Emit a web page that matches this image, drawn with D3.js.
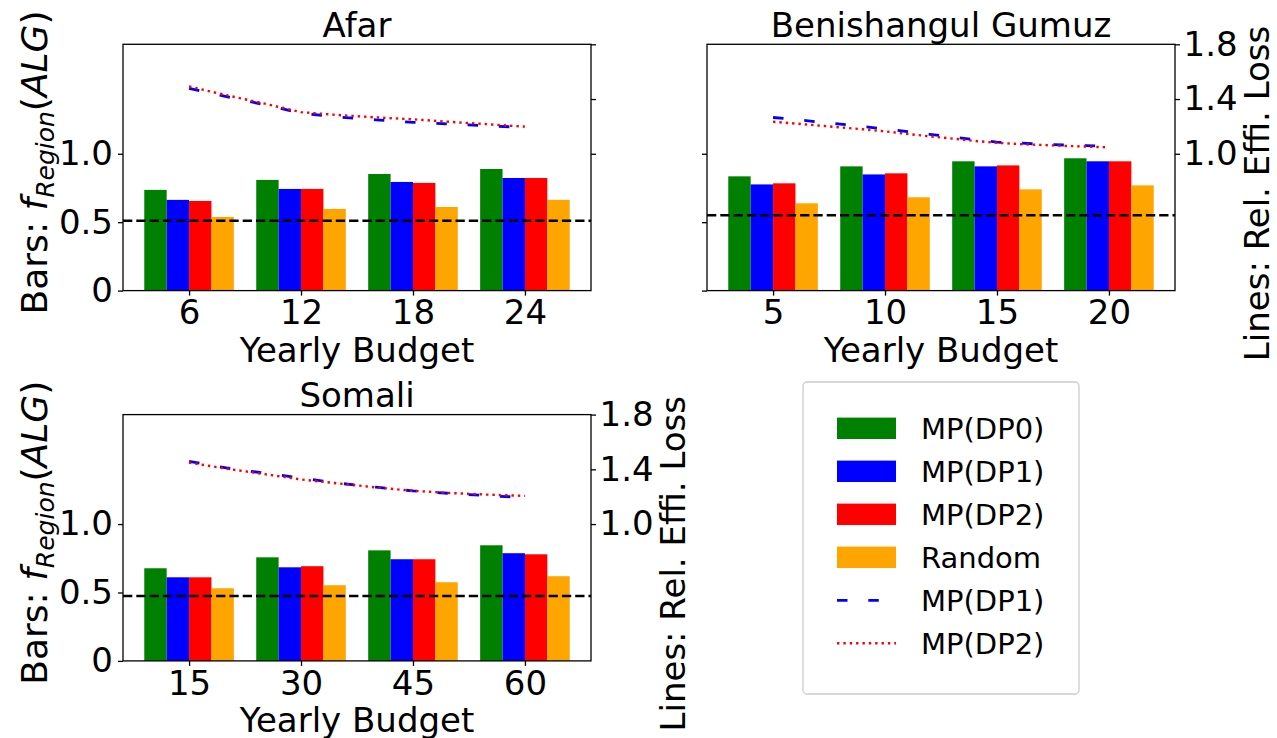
<!DOCTYPE html>
<html>
<head>
<meta charset="utf-8">
<script src="https://cdn.jsdelivr.net/npm/d3@7"></script>
<style>
  html, body { margin: 0; padding: 0; background: #fff; }
  svg { display: block; }
</style>
</head>
<body>
<div id="chart"></div>
<script>
// categories / series
var seriesNames = ["MP(DP0)", "MP(DP1)", "MP(DP2)", "Random"];
var barColors = ["#008000", "#0000ff", "#ff0000", "#ffa500"];
var lineNames = ["MP(DP1)", "MP(DP2)"];
var lineColors = ["#0000ff", "#ff0000"];

// Afar
var afarBudgets = [6, 12, 18, 24];
var afarDP0 = [0.736, 0.809, 0.852, 0.889];
var afarDP1 = [0.663, 0.743, 0.794, 0.823];
var afarDP2 = [0.655, 0.743, 0.787, 0.823];
var afarRandom = [0.538, 0.597, 0.611, 0.663];
var afarBaseline = 0.51;
var afarLineBudgets = [6, 8, 10, 12, 14, 16, 18, 20, 22, 24];
var afarLineDP1 = [1.478, 1.418, 1.360, 1.297, 1.268, 1.248, 1.230, 1.217, 1.204, 1.193];
var afarLineDP2 = [1.492, 1.428, 1.368, 1.304, 1.283, 1.266, 1.252, 1.233, 1.216, 1.198];

// Benishangul Gumuz
var benBudgets = [5, 10, 15, 20];
var benDP0 = [0.835, 0.908, 0.945, 0.967];
var benDP1 = [0.776, 0.849, 0.908, 0.945];
var benDP2 = [0.784, 0.857, 0.915, 0.945];
var benRandom = [0.638, 0.682, 0.740, 0.769];
var benBaseline = 0.55;
var benLineBudgets = [5, 6, 7, 8, 9, 10, 11, 12, 13, 14, 15, 16, 17, 18, 19, 20];
var benLineDP1 = [1.265, 1.250, 1.233, 1.217, 1.199, 1.181, 1.162, 1.142, 1.122, 1.103, 1.085, 1.078, 1.070, 1.064, 1.059, 1.055];
var benLineDP2 = [1.234, 1.221, 1.207, 1.193, 1.179, 1.164, 1.145, 1.127, 1.111, 1.094, 1.080, 1.071, 1.064, 1.058, 1.052, 1.047];

// Somali
var somBudgets = [15, 30, 45, 60];
var somDP0 = [0.677, 0.757, 0.808, 0.845];
var somDP1 = [0.611, 0.684, 0.743, 0.787];
var somDP2 = [0.611, 0.692, 0.743, 0.779];
var somRandom = [0.531, 0.553, 0.575, 0.619];
var somBaseline = 0.475;
var somLineBudgets = [15, 20, 25, 30, 35, 40, 45, 50, 55, 60];
var somLineDP1 = [1.458, 1.410, 1.373, 1.337, 1.299, 1.270, 1.242, 1.224, 1.207, 1.195];
var somLineDP2 = [1.449, 1.405, 1.366, 1.326, 1.297, 1.268, 1.243, 1.227, 1.215, 1.206];

var leftTicks = [0, 0.5, 1.0];
var rightTicks = [1.0, 1.4, 1.8];

(function(){
    var width = 1277, height = 738;
    var FONT = "'DejaVu Sans', sans-serif";
    var FS = 34;

    var svg = d3.select("#chart").append("svg")
        .attr("width", width)
        .attr("height", height);
    svg.append("rect").attr("width", width).attr("height", height).attr("fill", "#fff");

    var panels = [
        {name: "Afar", left: 123, right: 591, top: 44.3, bottom: 290.6,
         budgets: afarBudgets, bars: [afarDP0, afarDP1, afarDP2, afarRandom], base: afarBaseline,
         lb: afarLineBudgets, lines: [afarLineDP1, afarLineDP2],
         leftLabels: true, rightLabels: false, leftTitle: true, rightTitle: false},
        {name: "Benishangul Gumuz", left: 707, right: 1175, top: 44.3, bottom: 290.6,
         budgets: benBudgets, bars: [benDP0, benDP1, benDP2, benRandom], base: benBaseline,
         lb: benLineBudgets, lines: [benLineDP1, benLineDP2],
         leftLabels: false, rightLabels: true, leftTitle: false, rightTitle: true},
        {name: "Somali", left: 123, right: 591, top: 414.6, bottom: 660.9,
         budgets: somBudgets, bars: [somDP0, somDP1, somDP2, somRandom], base: somBaseline,
         lb: somLineBudgets, lines: [somLineDP1, somLineDP2],
         leftLabels: true, rightLabels: true, leftTitle: true, rightTitle: true}
    ];

    function styleAxis(g){
        g.attr("font-family", FONT).attr("font-size", FS);
        g.select(".domain").remove();
        g.selectAll("line").attr("stroke", "#000").attr("stroke-width", 1.3);
        g.selectAll("text").attr("fill", "#000");
    }

    function panel(p){
        var g = svg.append("g");
        var x = d3.scaleLinear().domain([-0.59, 3.59]).range([p.left, p.right]);
        var y = d3.scaleLinear().domain([0, 1.8]).range([p.bottom, p.top]);
        var step = p.budgets[1] - p.budgets[0];
        var bIdx = function(b){ return (b - p.budgets[0]) / step; };

        // bars
        p.bars.forEach(function(vals, k){
            g.append("g").selectAll("rect")
                .data(vals).enter().append("rect")
                .attr("x", function(d, i){ return x(i + (k - 2) * 0.2); })
                .attr("width", function(d, i){ return x(i + (k - 1) * 0.2) - x(i + (k - 2) * 0.2); })
                .attr("y", function(d){ return y(d); })
                .attr("height", function(d){ return y(0) - y(d); })
                .attr("fill", barColors[k]);
        });

        // baseline
        g.append("line")
            .attr("x1", p.left).attr("x2", p.right)
            .attr("y1", y(p.base)).attr("y2", y(p.base))
            .attr("stroke", "#000").attr("stroke-width", 2.5)
            .attr("stroke-dasharray", "9.3,4");

        // lines
        var line = d3.line()
            .x(function(d){ return x(bIdx(d[0])); })
            .y(function(d){ return y(d[1]); });
        var dashes = ["10.5,20.8", "2.4,3.96"];
        var widths = [2.8, 2.4];
        p.lines.forEach(function(vals, k){
            g.append("path")
                .datum(p.lb.map(function(b, i){ return [b, vals[i]]; }))
                .attr("d", line)
                .attr("fill", "none")
                .attr("stroke", lineColors[k])
                .attr("stroke-width", widths[k])
                .attr("stroke-dasharray", dashes[k]);
        });

        // spines
        g.append("rect")
            .attr("x", p.left).attr("y", p.top)
            .attr("width", p.right - p.left).attr("height", p.bottom - p.top)
            .attr("fill", "none").attr("stroke", "#000").attr("stroke-width", 1.3);

        // axes
        var ax = g.append("g").attr("transform", "translate(0," + p.bottom + ")")
            .call(d3.axisBottom(x).tickValues([0, 1, 2, 3])
                .tickFormat(function(i){ return p.budgets[i]; })
                .tickSizeOuter(0).tickSize(5).tickPadding(4.5));
        styleAxis(ax);

        var ay = g.append("g").attr("transform", "translate(" + p.left + ",0)")
            .call(d3.axisLeft(y).tickValues(leftTicks)
                .tickFormat(function(d){ return p.leftLabels ? (d === 0 ? "0" : d3.format(".1f")(d)) : ""; })
                .tickSizeOuter(0).tickSize(5).tickPadding(5));
        styleAxis(ay);

        var ar = g.append("g").attr("transform", "translate(" + p.right + ",0)")
            .call(d3.axisRight(y).tickValues(rightTicks)
                .tickFormat(function(d){ return p.rightLabels ? d3.format(".1f")(d) : ""; })
                .tickSizeOuter(0).tickSize(5).tickPadding(3.5));
        styleAxis(ar);

        var cx = (p.left + p.right) / 2, cy = (p.top + p.bottom) / 2;

        // title
        g.append("text")
            .attr("x", cx).attr("y", p.top - 7.6)
            .attr("text-anchor", "middle")
            .attr("font-family", FONT).attr("font-size", FS)
            .text(p.name);

        // x label
        g.append("text")
            .attr("x", cx).attr("y", p.bottom + 71)
            .attr("text-anchor", "middle")
            .attr("font-family", FONT).attr("font-size", FS)
            .text("Yearly Budget");

        if (p.leftTitle){
            var lt = g.append("text")
                .attr("transform", "translate(47," + (cy - 5) + ") rotate(-90)")
                .attr("text-anchor", "middle")
                .attr("font-family", FONT).attr("font-size", 36);
            lt.append("tspan").text("Bars: ");
            lt.append("tspan").attr("font-style", "italic").text("f");
            lt.append("tspan").attr("font-style", "italic").attr("font-size", 25).attr("dy", 7).text("Region");
            lt.append("tspan").attr("dy", -7).text("(");
            lt.append("tspan").attr("font-style", "italic").text("ALG");
            lt.append("tspan").text(")");
        }
        if (p.rightTitle){
            g.append("text")
                .attr("transform", "translate(" + (p.right + 94) + "," + (cy + 26) + ") rotate(-90)")
                .attr("text-anchor", "middle")
                .attr("font-family", FONT).attr("font-size", FS)
                .text("Lines: Rel. Effi. Loss");
        }
    }

    panels.forEach(panel);

    // legend
    var leg = svg.append("g");
    leg.append("rect")
        .attr("x", 803).attr("y", 382).attr("width", 276).attr("height", 312)
        .attr("rx", 4).attr("fill", "#fff").attr("stroke", "#cccccc").attr("stroke-width", 1.3);
    var items = seriesNames.map(function(n, i){ return {name: n, kind: "bar", color: barColors[i]}; })
        .concat(lineNames.map(function(n, i){ return {name: n, kind: "line", idx: i}; }));
    var ly = d3.scaleLinear().domain([0, 1]).range([428.3, 471.3]);
    items.forEach(function(it, i){
        var c = ly(i);
        if (it.kind === "bar"){
            leg.append("rect").attr("x", 837).attr("y", c - 10.7)
                .attr("width", 59).attr("height", 21.4).attr("fill", it.color);
        } else {
            leg.append("line").attr("x1", 837).attr("x2", 896).attr("y1", c).attr("y2", c)
                .attr("stroke", lineColors[it.idx])
                .attr("stroke-width", it.idx === 0 ? 2.8 : 2.4)
                .attr("stroke-dasharray", it.idx === 0 ? "10.5,20.8" : "2.4,3.96");
        }
        leg.append("text").attr("x", 921).attr("y", c + 10.7)
            .attr("font-family", FONT).attr("font-size", 29)
            .text(it.name);
    });
})();
</script>
</body>
</html>
